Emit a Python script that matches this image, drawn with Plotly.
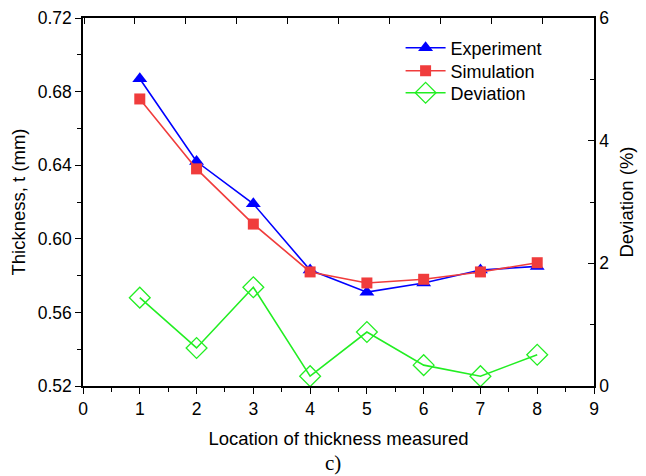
import plotly.graph_objects as go

locations = [1, 2, 3, 4, 5, 6, 7, 8]
experiment = [0.687, 0.642, 0.619, 0.583, 0.571, 0.576, 0.583, 0.585]
simulation = [0.676, 0.638, 0.608, 0.582, 0.576, 0.578, 0.582, 0.587]
deviation = [1.44, 0.62, 1.61, 0.16, 0.88, 0.34, 0.16, 0.51]

FONT = "Liberation Sans, Arial, sans-serif"

fig = go.Figure()
fig.add_trace(go.Scatter(x=locations, y=experiment, name="Experiment", mode="lines+markers",
                         legend="legend",
                         line=dict(color="#0000FF", width=1.6),
                         marker=dict(symbol="triangle-up", size=13, color="#0000FF")))
fig.add_trace(go.Scatter(x=locations, y=simulation, name="Simulation", mode="lines+markers",
                         legend="legend2",
                         line=dict(color="#F03C3C", width=1.6),
                         marker=dict(symbol="square", size=11, color="#F03C3C")))
fig.add_trace(go.Scatter(x=locations, y=deviation, name="Deviation", mode="lines+markers",
                         yaxis="y2", legend="legend3",
                         line=dict(color="#22EE22", width=1.6),
                         marker=dict(symbol="diamond-open", size=16, color="#22EE22",
                                     line=dict(width=1.3))))
# dummy trace for top axis ticks
fig.add_trace(go.Scatter(x=[], y=[], xaxis="x2", showlegend=False))

axis_common = dict(showline=True, linecolor="black", linewidth=1.5, showgrid=False,
                   zeroline=False, tickcolor="black", ticklen=6, tickwidth=1.3,
                   automargin=False,
                   tickfont=dict(family=FONT, size=17.5, color="black"))

leg_common = dict(x=0.6215, xanchor="left", yanchor="middle",
                  bgcolor="rgba(0,0,0,0)", font=dict(family=FONT, size=18),
                  itemwidth=40)

fig.update_layout(
    width=638, height=468,
    margin=dict(l=75, r=52, t=10, b=90, autoexpand=False),
    paper_bgcolor="white", plot_bgcolor="white",
    font=dict(family=FONT, color="black"),
    xaxis=dict(range=[0, 9], dtick=1, ticks="outside",
               minor=dict(dtick=0.5, ticks="outside", ticklen=4, tickcolor="black"),
               title=dict(text="Location of thickness measured", font=dict(size=18.5), standoff=14),
               **axis_common),
    xaxis2=dict(overlaying="x", side="top", range=[-1.02, 9.01], dtick=1, ticks="inside",
                showticklabels=False, showline=True, linecolor="black", linewidth=1.5,
                showgrid=False, zeroline=False, tickcolor="black", ticklen=6, tickwidth=1.3,
                anchor="y", automargin=False),
    yaxis=dict(range=[0.52, 0.72], dtick=0.04, tickformat=".2f", ticks="outside",
               minor=dict(dtick=0.02, ticks="outside", ticklen=4, tickcolor="black"),
               title=dict(text="Thickness, t (mm)", font=dict(size=18.5), standoff=8),
               **axis_common),
    yaxis2=dict(overlaying="y", side="right", range=[0, 6], dtick=2, ticks="inside",
                minor=dict(dtick=1, ticks="inside", ticklen=4, tickcolor="black"),
                title=dict(text="Deviation (%)", font=dict(size=18.5), standoff=12),
                **axis_common),
    legend=dict(y=0.9185, **leg_common),
    legend2=dict(y=0.856, **leg_common),
    legend3=dict(y=0.796, **leg_common),
    showlegend=True,
)

fig.add_annotation(text="c)", xref="paper", yref="paper", x=0.49, y=-0.209,
                   xanchor="center", yanchor="middle", showarrow=False,
                   font=dict(family="Liberation Serif, Times New Roman, serif", size=21, color="black"))

fig.write_html("out.html")
